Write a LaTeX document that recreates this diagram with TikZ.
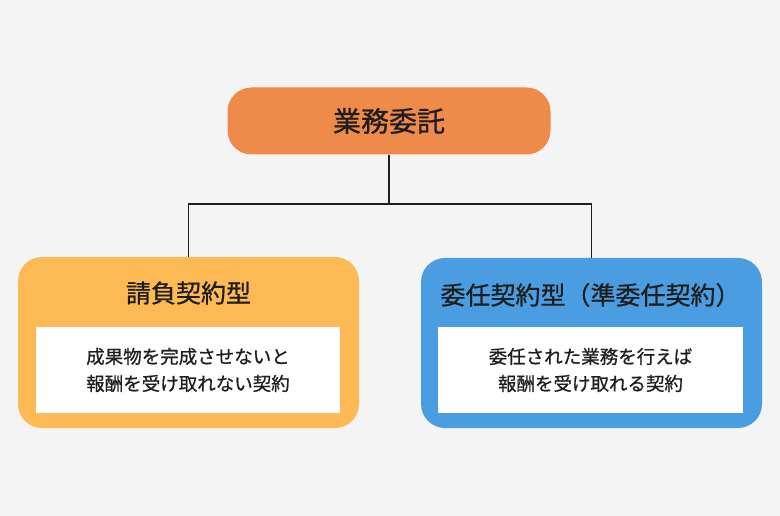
\documentclass[tikz,border=0pt]{standalone}
\usepackage{fontspec}
\setmainfont{Noto Sans CJK JP}
\newfontfamily\headfont{Noto Sans CJK JP}[FakeBold=0.8]
\usepackage{tikz}
\usetikzlibrary{calc}
\definecolor{bg}{HTML}{F4F4F4}
\definecolor{topc}{HTML}{EE8A4A}
\definecolor{leftc}{HTML}{FDB954}
\definecolor{rightc}{HTML}{4A9DE0}
\definecolor{ink}{HTML}{1E1E1E}
\begin{document}
\begin{tikzpicture}[x=1pt,y=-1pt,
    card/.style={rounded corners=24pt, inner sep=0pt},
    inner/.style={fill=white, inner sep=0pt, minimum width=304pt, minimum height=86pt,
                  align=center, font=\headfont\fontsize{18.5}{27}\selectfont, text=ink},
    heading/.style={inner sep=0pt, text=ink, font=\headfont\fontsize{25}{30}\selectfont}]
      \fill[bg] (0,0) rectangle (780,516);
      \useasboundingbox (0,0) rectangle (780,516);
      \node[card, fill=topc, minimum width=323pt, minimum height=67pt] (top) at (389,121) {};
      \node[heading, font=\headfont\fontsize{28}{32}\selectfont] (toptitle) at (top.center) {業務委託};
      \node[card, fill=leftc, minimum width=341pt, minimum height=171pt] (left) at (188.5,342.5) {};
      \node[card, fill=rightc, minimum width=341pt, minimum height=170pt] (right) at (591.5,343) {};
      \node[heading] (lefttitle) at (188.5,293) {請負契約型};
      \node[heading] (righttitle) at (590.5,295) {委任契約型（準委任契約）};
      \node[inner] (leftbody) at (188,370) {成果物を完成させないと\\報酬を受け取れない契約};
      \node[inner, minimum width=305pt] (rightbody) at (590.5,370) {委任された業務を行えば\\報酬を受け取れる契約};
      \coordinate (fork) at (389,204);
      \draw[ink, line width=1.5pt] (top.south) -- (fork);
      \draw[ink, line width=1.5pt] (left.north) |- (fork) -| (right.north);
\end{tikzpicture}
\end{document}
